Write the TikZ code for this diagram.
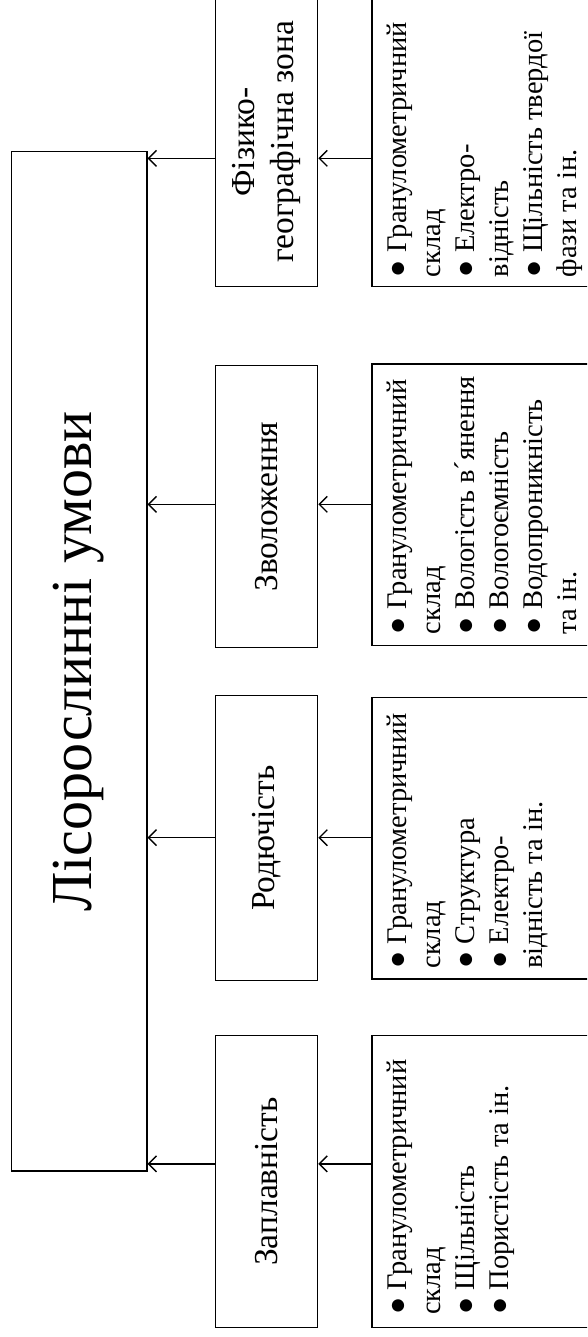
\documentclass[tikz,border=0pt]{standalone}
\usepackage{fontspec}
\setmainfont{Liberation Serif}
\usepackage{graphicx}
\usetikzlibrary{arrows.meta}
\newcommand\myrot[1]{\rotatebox{90}{#1}}
\newcommand\bl[1]{\vbox{\fontsize{28.5}{34}\selectfont #1}}
\begin{document}
\begin{tikzpicture}[x=1pt,y=1pt,
  box/.style={draw, line width=1.4pt, rectangle, inner sep=0pt},
  midbox/.style={box, minimum width=102.1pt},
  listbox/.style={box, minimum width=268.2pt},
  arr/.style={-{Straight Barb[length=8pt,width=16pt]}, line width=1.4pt},
  txt/.style={inner sep=0pt, anchor=south west},
  midtxt/.style={font=\fontsize{33.5}{39}\selectfont}]
\useasboundingbox (0,0) rectangle (587,-1337);
\clip (0,0) rectangle (587,-1337);
\fill[white] (0,0) rectangle (587,-1337);

% main box
\node[box, minimum width=135.6pt, minimum height=1019.3pt] (main) at (79,-661.35)
  {\myrot{\fontsize{58}{62}\selectfont Лісорослинні умови}};

% middle boxes
\node[midbox, minimum height=289.7pt, midtxt] (fiz) at (266.55,-141.85)
  {\myrot{\begin{tabular}{@{}c@{}}Фізико-\\географічна зона\end{tabular}}};
\node[midbox, minimum height=282pt, midtxt] (zvo) at (266.55,-506.7)
  {\myrot{Зволоження}};
\node[midbox, minimum height=285pt, midtxt] (rod) at (266.55,-838.2)
  {\myrot{Родючість}};
\node[midbox, minimum height=291.6pt, midtxt] (zap) at (266.55,-1181.5)
  {\myrot{Заплавність}};

% list boxes
\node[listbox, minimum height=289.7pt] (fizR) at (505.9,-141.85) {};
\node[listbox, minimum height=281.7pt] (zvoR) at (505.9,-504.85) {};
\node[listbox, minimum height=281.7pt] (rodR) at (505.9,-838.15) {};
\node[listbox, minimum height=291.6pt] (zapR) at (505.9,-1181.5) {};

\node[txt] (fizT) at ([xshift=16pt,yshift=10pt]fizR.south west)
  {\myrot{\bl{\hbox{● Гранулометричний}\hbox{склад}\hbox{● Електро-}\hbox{відність}\hbox{● Щільність твердої}\hbox{фази та ін.}}}};
\node[txt] (zvoT) at ([xshift=16pt,yshift=12pt]zvoR.south west)
  {\myrot{\bl{\hbox{● Гранулометричний}\hbox{склад}\hbox{● Вологість в´янення}\hbox{● Вологоємність}\hbox{● Водопроникність}\hbox{та ін.}}}};
\node[txt] (rodT) at ([xshift=16pt,yshift=11pt]rodR.south west)
  {\myrot{\bl{\hbox{● Гранулометричний}\hbox{склад}\hbox{● Структура}\hbox{● Електро-}\hbox{відність та ін.}}}};
\node[txt] (zapT) at ([xshift=16pt,yshift=13pt]zapR.south west)
  {\myrot{\bl{\hbox{● Гранулометричний}\hbox{склад}\hbox{● Щільність}\hbox{● Пористість та ін.}}}};

% arrow levels
\coordinate (aF) at (0,-158.3);
\coordinate (aZ) at (0,-504.3);
\coordinate (aR) at (0,-837.7);
\coordinate (aP) at (0,-1163.8);

\draw[arr] (fizR.west |- aF) -- (fiz.east |- aF);
\draw[arr] (fiz.west |- aF) -- (main.east |- aF);
\draw[arr] (zvoR.west |- aZ) -- (zvo.east |- aZ);
\draw[arr] (zvo.west |- aZ) -- (main.east |- aZ);
\draw[arr] (rodR.west |- aR) -- (rod.east |- aR);
\draw[arr] (rod.west |- aR) -- (main.east |- aR);
\draw[arr] (zapR.west |- aP) -- (zap.east |- aP);
\draw[arr] (zap.west |- aP) -- (main.east |- aP);
\end{tikzpicture}
\end{document}
